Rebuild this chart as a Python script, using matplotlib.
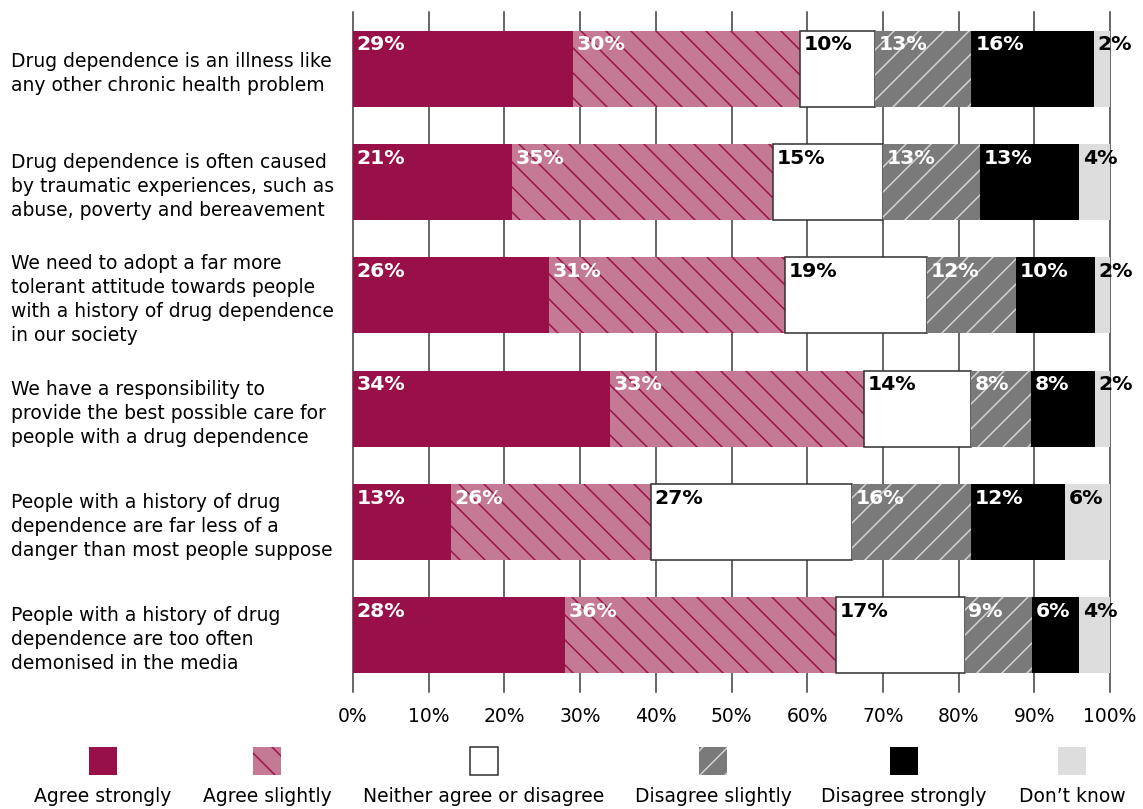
import matplotlib
matplotlib.use('Agg')
import matplotlib.pyplot as plt
from matplotlib.patches import Rectangle

plt.rcParams['font.family'] = ['DejaVu Sans']
plt.rcParams['hatch.linewidth'] = 0.7

# data (segment widths in %, shown labels as printed)
statements = [
    'Drug dependence is an illness like\nany other chronic health problem',
    'Drug dependence is often caused\nby traumatic experiences, such as\nabuse, poverty and bereavement',
    'We need to adopt a far more\ntolerant attitude towards people\nwith a history of drug dependence\nin our society',
    'We have a responsibility to\nprovide the best possible care for\npeople with a drug dependence',
    'People with a history of drug\ndependence are far less of a\ndanger than most people suppose',
    'People with a history of drug\ndependence are too often\ndemonised in the media',
]
responses = ['Agree strongly', 'Agree slightly', 'Neither agree or disagree',
             'Disagree slightly', 'Disagree strongly', 'Don\u2019t know']

agree_strongly = [29.0, 21.0, 25.9, 33.95, 12.95, 27.95]
agree_slightly = [30.05, 34.5, 31.2, 33.6, 26.35, 35.9]
neither = [9.85, 14.55, 18.7, 14.05, 26.6, 16.95]
disagree_slightly = [12.8, 12.75, 11.8, 7.9, 15.7, 8.9]
disagree_strongly = [16.2, 13.1, 10.4, 8.5, 12.4, 6.2]
dont_know = [2.1, 4.1, 2.0, 2.0, 6.0, 4.1]

lab_agree_strongly = ['29%', '21%', '26%', '34%', '13%', '28%']
lab_agree_slightly = ['30%', '35%', '31%', '33%', '26%', '36%']
lab_neither = ['10%', '15%', '19%', '14%', '27%', '17%']
lab_disagree_slightly = ['13%', '13%', '12%', '8%', '16%', '9%']
lab_disagree_strongly = ['16%', '13%', '10%', '8%', '12%', '6%']
lab_dont_know = ['2%', '4%', '2%', '2%', '6%', '4%']

series = [agree_strongly, agree_slightly, neither, disagree_slightly, disagree_strongly, dont_know]
labels = [lab_agree_strongly, lab_agree_slightly, lab_neither,
          lab_disagree_slightly, lab_disagree_strongly, lab_dont_know]

styles = [
    dict(facecolor='#990F47', edgecolor='#990F47', linewidth=0),
    dict(facecolor='#C47A94', edgecolor='#990F47', linewidth=0, hatch='\\\\'),
    dict(facecolor='white', edgecolor='#333333', linewidth=0.75),
    dict(facecolor='#7A7A7A', edgecolor='#D6D6D6', linewidth=0, hatch='//'),
    dict(facecolor='black', edgecolor='black', linewidth=0),
    dict(facecolor='#DDDDDD', edgecolor='#DDDDDD', linewidth=0),
]
text_colors = ['white', 'white', 'black', 'white', 'white', 'black']

W, H = 1143, 809
fig = plt.figure(figsize=(W / 150, H / 150), dpi=150)
ax = fig.add_axes([353 / W, 1 - 692 / H, (1110 - 353) / W, (692 - 12) / H])

bar_h = 0.67
ypos = list(range(len(statements)))
left = [0.0] * len(statements)
for vals, labs, st, tc in zip(series, labels, styles, text_colors):
    ax.barh(ypos, vals, left=left, height=bar_h, zorder=3, **st)
    for i in ypos:
        ax.annotate(labs[i], xy=(left[i], i - bar_h / 2), xytext=(1.8, -2.2),
                    textcoords='offset points', ha='left', va='top',
                    fontsize=9.8, fontweight='bold', color=tc, zorder=5)
    left = [l + v for l, v in zip(left, vals)]

ax.set_xlim(0, 100)
ax.set_ylim(len(statements) - 0.5, -0.5)
ax.set_xticks(range(0, 101, 10))
ax.set_xticklabels([f'{v}%' for v in range(0, 101, 10)], fontsize=9)
ax.set_yticks(ypos)
ax.set_yticklabels(statements, fontsize=9, ha='left', linespacing=1.33,
                   multialignment='left')
ax.tick_params(axis='x', length=0, pad=7)
ax.tick_params(axis='y', length=0, pad=164)
for s in ax.spines.values():
    s.set_visible(False)
ax.grid(axis='x', color='#404040', linewidth=0.75)
ax.set_axisbelow(True)
for gl in ax.get_xgridlines():
    gl.set_clip_on(False)

# legend: squares above centred labels
legend_x = [103, 267, 484, 713, 904, 1072]
for name, st, cx in zip(responses, styles, legend_x):
    sq = Rectangle(((cx - 14) / W, 1 - 775 / H), 28 / W, 28 / H,
                   transform=fig.transFigure, **st)
    fig.add_artist(sq)
    fig.text(cx / W, 1 - 797 / H, name, ha='center', va='center', fontsize=9)

fig.savefig('out.png', dpi=150)
